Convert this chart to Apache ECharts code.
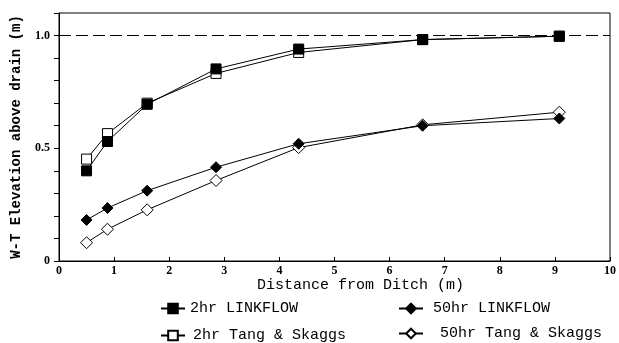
<!DOCTYPE html>
<html><head><meta charset="utf-8">
<script src="https://cdn.jsdelivr.net/npm/echarts@6/dist/echarts.min.js"></script>
<style>html,body{margin:0;padding:0;background:#fff}#c{width:619px;height:343px}</style>
</head><body><div id="c"></div>
<script>
const distance = [0.5, 0.88, 1.6, 2.85, 4.35, 6.6, 9.08];
const link2hr = [0.40, 0.53, 0.695, 0.852, 0.94, 0.982, 0.997];
const tang2hr = [0.452, 0.565, 0.70, 0.832, 0.925, 0.982, 0.997];
const link50hr = [0.182, 0.235, 0.312, 0.416, 0.52, 0.60, 0.632];
const tang50hr = [0.081, 0.141, 0.227, 0.357, 0.503, 0.604, 0.66];
const refLevel = 1.0;
const yLabels = {0: '0', 5: '0.5', 10: '1.0'};
const names = ['2hr LINKFLOW', '2hr Tang & Skaggs', '50hr LINKFLOW', '50hr Tang & Skaggs'];

const pair = ys => distance.map((x, i) => [x, ys[i]]);
const mono = 'Liberation Mono, Courier New, monospace';
const chart = echarts.init(document.getElementById('c'), null, {renderer: 'canvas'});
const mkLegend = (name, left, top, gap) => ({
  data: [name], left: left, top: top, itemWidth: 24, itemHeight: 12, itemGap: 0,
  textStyle: {color: '#000', fontFamily: mono, fontSize: 15, padding: [0, 0, 0, gap]},
  selectedMode: false, padding: 0
});
const base = {type: 'line', color: '#000', lineStyle: {color: '#000', width: 1}, animation: false, z: 3};
chart.setOption({
  backgroundColor: '#fff',
  animation: false,
  grid: {left: 59, right: 7, top: 13, bottom: 82, show: true, borderColor: '#000', borderWidth: 1, backgroundColor: 'transparent'},
  title: {text: 'Distance from Ditch (m)', left: 257, top: 278, padding: 0,
    textStyle: {fontFamily: mono, fontSize: 15, fontWeight: 'normal', color: '#000'}},
  legend: [
    mkLegend(names[0], 160, 301, 0),
    mkLegend(names[1], 160, 328, 3),
    mkLegend(names[2], 398, 301, 5),
    mkLegend(names[3], 398, 326, 12)
  ],
  xAxis: {type: 'value', min: 0, max: 10, interval: 1,
    axisLine: {lineStyle: {color: '#000', width: 1}},
    axisTick: {inside: true, length: 4, lineStyle: {color: '#000'}},
    splitLine: {show: false},
    axisLabel: {color: '#000', fontFamily: 'Liberation Serif, serif', fontWeight: 'bold', fontSize: 12, margin: 4}
  },
  yAxis: {type: 'value', min: 0, max: 1.1, interval: 0.1,
    name: 'W-T Elevation above drain (m)', nameLocation: 'middle', nameGap: 36, nameRotate: 90,
    nameTextStyle: {fontFamily: mono, fontSize: 14, fontWeight: 'bold', color: '#000'},
    axisLine: {show: true, lineStyle: {color: '#000', width: 1}},
    axisTick: {show: true, length: 5, lineStyle: {color: '#000'}},
    splitLine: {show: false},
    axisLabel: {color: '#000', fontFamily: 'Liberation Serif, serif', fontWeight: 'bold', fontSize: 12, margin: 9,
      formatter: v => { const k = Math.round(v * 10); return yLabels[k] !== undefined ? yLabels[k] : ''; }}
  },
  series: [
    Object.assign({}, base, {name: names[1], data: pair(tang2hr), symbol: 'rect', symbolSize: 10,
      itemStyle: {color: '#fff', borderColor: '#000', borderWidth: 1}}),
    Object.assign({}, base, {name: names[3], data: pair(tang50hr), symbol: 'diamond', symbolSize: 12,
      itemStyle: {color: '#fff', borderColor: '#000', borderWidth: 1}}),
    Object.assign({}, base, {name: names[0], data: pair(link2hr), symbol: 'rect', symbolSize: 10,
      itemStyle: {color: '#000', borderColor: '#000', borderWidth: 1},
      markLine: {silent: true, symbol: 'none', label: {show: false},
        lineStyle: {color: '#000', type: [12, 5], width: 1}, data: [{yAxis: refLevel}]}}),
    Object.assign({}, base, {name: names[2], data: pair(link50hr), symbol: 'diamond', symbolSize: 11,
      itemStyle: {color: '#000', borderColor: '#000', borderWidth: 1}})
  ]
});
</script></body></html>
